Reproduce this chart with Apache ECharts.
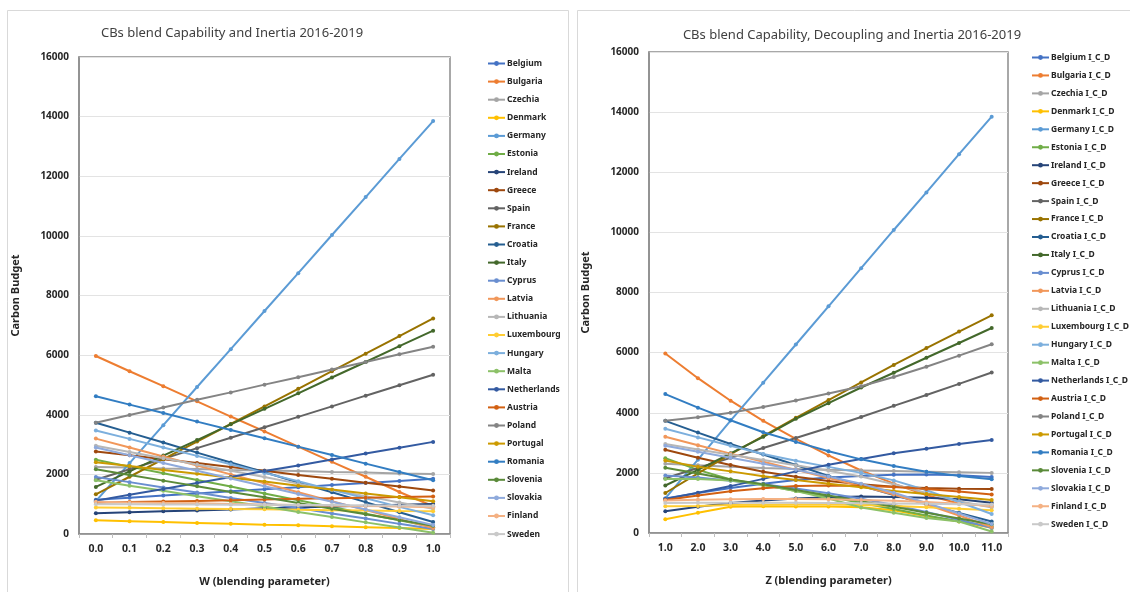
<!DOCTYPE html>
<html>
<head>
<meta charset="utf-8">
<script src="https://cdn.jsdelivr.net/npm/echarts@6/dist/echarts.min.js"></script>
<style>
  html, body { margin: 0; padding: 0; background: #fff; }
  #main { width: 1130px; height: 592px; }
</style>
</head>
<body>
<div id="main"></div>
<script>
// x-axis categories
var wLabels = ['0.0', '0.1', '0.2', '0.3', '0.4', '0.5', '0.6', '0.7', '0.8', '0.9', '1.0'];
var zLabels = ['1.0', '2.0', '3.0', '4.0', '5.0', '6.0', '7.0', '8.0', '9.0', '10.0', '11.0'];

var countries = ['Belgium', 'Bulgaria', 'Czechia', 'Denmark', 'Germany', 'Estonia', 'Ireland', 'Greece', 'Spain',
  'France', 'Croatia', 'Italy', 'Cyprus', 'Latvia', 'Lithuania', 'Luxembourg', 'Hungary', 'Malta', 'Netherlands',
  'Austria', 'Poland', 'Portugal', 'Romania', 'Slovenia', 'Slovakia', 'Finland', 'Sweden'];

// left chart: blend of Capability and Inertia (W)
var wBelgium     = [1150, 1220, 1290, 1360, 1430, 1500, 1570, 1640, 1710, 1780, 1850];
var wBulgaria    = [5970, 5460, 4960, 4450, 3940, 3440, 2930, 2420, 1920, 1410, 930];
var wCzechia     = [2250, 2230, 2200, 2180, 2150, 2130, 2110, 2080, 2060, 2030, 2010];
var wDenmark     = [460, 430, 400, 370, 340, 310, 290, 260, 230, 200, 170];
var wGermany     = [1100, 2380, 3650, 4930, 6200, 7480, 8750, 10030, 11300, 12580, 13850];
var wEstonia     = [2490, 2260, 2040, 1810, 1590, 1360, 1130, 910, 680, 460, 230];
var wIreland     = [700, 730, 760, 790, 820, 860, 890, 920, 950, 980, 1010];
var wGreece      = [2770, 2640, 2510, 2380, 2250, 2120, 1980, 1850, 1720, 1590, 1460];
var wSpain       = [1820, 2170, 2520, 2880, 3230, 3580, 3930, 4280, 4640, 4990, 5340];
var wFrance      = [1330, 1920, 2510, 3100, 3690, 4280, 4870, 5460, 6050, 6640, 7230];
var wCroatia     = [3730, 3400, 3070, 2730, 2400, 2070, 1730, 1400, 1070, 730, 400];
var wItaly       = [1580, 2100, 2630, 3150, 3680, 4200, 4720, 5250, 5770, 6300, 6820];
var wCyprus      = [1910, 1740, 1560, 1390, 1210, 1040, 870, 690, 520, 340, 170];
var wLatvia      = [3200, 2900, 2600, 2300, 2000, 1700, 1400, 1100, 800, 500, 200];
var wLithuania   = [2960, 2750, 2540, 2330, 2120, 1910, 1690, 1480, 1270, 1060, 850];
var wLuxembourg  = [890, 880, 860, 850, 840, 830, 810, 800, 790, 770, 760];
var wHungary     = [3470, 3190, 2900, 2620, 2340, 2050, 1770, 1480, 1200, 910, 630];
var wMalta       = [1800, 1620, 1450, 1270, 1100, 920, 740, 570, 390, 220, 40];
var wNetherlands = [1120, 1320, 1510, 1710, 1910, 2110, 2300, 2500, 2700, 2890, 3090];
var wAustria     = [1050, 1070, 1090, 1110, 1130, 1160, 1180, 1200, 1220, 1240, 1260];
var wPoland      = [3730, 3990, 4240, 4500, 4750, 5010, 5260, 5520, 5770, 6030, 6280];
var wPortugal    = [2410, 2280, 2150, 2020, 1890, 1760, 1620, 1490, 1360, 1230, 1100];
var wRomania     = [4620, 4340, 4060, 3770, 3490, 3210, 2930, 2650, 2360, 2080, 1800];
var wSlovenia    = [2170, 1980, 1790, 1600, 1410, 1230, 1040, 850, 660, 470, 280];
var wSlovakia    = [2900, 2640, 2380, 2120, 1860, 1600, 1340, 1080, 820, 560, 300];
var wFinland     = [1080, 1060, 1040, 1030, 1010, 990, 970, 950, 940, 920, 900];
var wSweden      = [1000, 1000, 990, 990, 980, 980, 970, 970, 960, 960, 950];

// right chart: blend of Capability, Decoupling and Inertia (Z)
var zBelgium     = [1150, 1330, 1500, 1640, 1760, 1850, 1900, 1940, 1950, 1920, 1860];
var zBulgaria    = [5970, 5150, 4400, 3730, 3130, 2580, 2080, 1640, 1260, 980, 900];
var zCzechia     = [2300, 2250, 2200, 2160, 2130, 2100, 2080, 2060, 2040, 2020, 2000];
var zDenmark     = [460, 670, 870, 890, 880, 880, 860, 760, 560, 380, 170];
var zGermany     = [1150, 2440, 3740, 5000, 6270, 7540, 8810, 10080, 11330, 12600, 13850];
var zEstonia     = [2490, 2100, 1780, 1600, 1400, 1210, 1000, 800, 580, 390, 220];
var zIreland     = [720, 870, 1000, 1080, 1150, 1190, 1210, 1200, 1170, 1120, 1010];
var zGreece      = [2770, 2500, 2260, 2040, 1870, 1730, 1620, 1540, 1500, 1470, 1460];
var zSpain       = [1820, 2160, 2500, 2830, 3160, 3500, 3860, 4230, 4590, 4960, 5340];
var zFrance      = [1330, 1980, 2620, 3220, 3830, 4420, 5010, 5590, 6150, 6700, 7240];
var zCroatia     = [3730, 3340, 2960, 2610, 2260, 1900, 1570, 1260, 960, 670, 380];
var zItaly       = [1580, 2100, 2650, 3200, 3800, 4320, 4840, 5330, 5830, 6320, 6820];
var zCyprus      = [1910, 1850, 1740, 1620, 1480, 1320, 1140, 930, 700, 440, 170];
var zLatvia      = [3200, 2920, 2640, 2370, 2100, 1830, 1560, 1280, 950, 580, 200];
var zLithuania   = [2960, 2780, 2600, 2430, 2250, 2070, 1880, 1620, 1330, 1060, 850];
var zLuxembourg  = [890, 900, 930, 940, 950, 950, 930, 900, 860, 810, 760];
var zHungary     = [3470, 3180, 2900, 2630, 2400, 2200, 2000, 1750, 1420, 1030, 630];
var zMalta       = [1800, 1800, 1750, 1600, 1400, 1150, 850, 670, 500, 380, 50];
var zNetherlands = [1130, 1340, 1560, 1800, 2050, 2270, 2460, 2650, 2800, 2960, 3090];
var zAustria     = [1100, 1250, 1390, 1490, 1560, 1580, 1570, 1530, 1460, 1380, 1280];
var zPoland      = [3730, 3850, 4000, 4190, 4410, 4640, 4880, 5190, 5530, 5900, 6280];
var zPortugal    = [2410, 2200, 2050, 1890, 1760, 1640, 1520, 1400, 1300, 1200, 1100];
var zRomania     = [4620, 4170, 3750, 3350, 3030, 2720, 2450, 2230, 2040, 1900, 1790];
var zSlovenia    = [2170, 1980, 1780, 1620, 1430, 1250, 1060, 870, 670, 480, 290];
var zSlovakia    = [2900, 2700, 2500, 2300, 2100, 1880, 1640, 1340, 1000, 650, 300];
var zFinland     = [1080, 1110, 1120, 1130, 1130, 1120, 1100, 1070, 1030, 970, 900];
var zSweden      = [1000, 1010, 1010, 1010, 1010, 1000, 990, 980, 970, 960, 950];

var wValues = [wBelgium, wBulgaria, wCzechia, wDenmark, wGermany, wEstonia, wIreland, wGreece, wSpain, wFrance,
  wCroatia, wItaly, wCyprus, wLatvia, wLithuania, wLuxembourg, wHungary, wMalta, wNetherlands, wAustria, wPoland,
  wPortugal, wRomania, wSlovenia, wSlovakia, wFinland, wSweden];
var zValues = [zBelgium, zBulgaria, zCzechia, zDenmark, zGermany, zEstonia, zIreland, zGreece, zSpain, zFrance,
  zCroatia, zItaly, zCyprus, zLatvia, zLithuania, zLuxembourg, zHungary, zMalta, zNetherlands, zAustria, zPoland,
  zPortugal, zRomania, zSlovenia, zSlovakia, zFinland, zSweden];

// excel office palette, 27 series
var palette = ['#4472C4', '#ED7D31', '#A5A5A5', '#FFC000', '#5B9BD5', '#70AD47', '#264478', '#9E480E', '#636363',
  '#997300', '#255E91', '#43682B', '#698ED0', '#F1975A', '#B7B7B7', '#FFCD33', '#7CAFDD', '#8CC168', '#335AA1',
  '#D26012', '#848484', '#CC9A00', '#327DC2', '#5A8A39', '#8FAADC', '#F4B183', '#C9C9C9'];

var FONT = '"Noto Sans", "Open Sans", sans-serif';
var TXT = '#262626';

function makeSeries(values, suffix, idx) {
  return values.map(function (vals, i) {
    return {
      name: countries[i] + suffix,
      type: 'line',
      xAxisIndex: idx,
      yAxisIndex: idx,
      data: vals,
      symbol: 'circle',
      symbolSize: 4,
      color: palette[i],
      lineStyle: { width: 2 },
      emphasis: { disabled: true },
      animation: false
    };
  });
}

function makeLegend(suffix, left, top, gap) {
  return {
    orient: 'vertical',
    left: left,
    top: top,
    padding: 0,
    itemWidth: 17,
    itemHeight: 6,
    itemGap: gap,
    selectedMode: false,
    data: countries.map(function (c) { return c + suffix; }),
    textStyle: { fontFamily: FONT, fontSize: 8.5, fontWeight: 'bold', color: TXT, padding: [0, 0, 0, -3] }
  };
}

function makeXAxis(labels, idx, name) {
  return {
    type: 'category',
    gridIndex: idx,
    data: labels,
    boundaryGap: true,
    name: name,
    nameLocation: 'middle',
    nameGap: 42,
    nameTextStyle: { fontFamily: FONT, fontSize: 11, fontWeight: 'bold', color: TXT },
    axisLine: { lineStyle: { color: '#8c8c8c', width: 1.5 } },
    axisTick: { show: true, length: 4, lineStyle: { color: '#bfbfbf' } },
    axisLabel: { fontFamily: FONT, fontSize: 10.5, fontWeight: 'bold', color: TXT, margin: 10 },
    splitLine: { show: false }
  };
}

function makeYAxis(idx) {
  return {
    type: 'value',
    gridIndex: idx,
    min: 0,
    max: 16000,
    interval: 2000,
    name: 'Carbon Budget',
    nameLocation: 'middle',
    nameRotate: 90,
    nameGap: 58,
    nameTextStyle: { fontFamily: FONT, fontSize: 11, fontWeight: 'bold', color: TXT },
    axisLine: { show: true, lineStyle: { color: '#8c8c8c', width: 1.5 } },
    axisTick: { show: false },
    axisLabel: {
      fontFamily: FONT, fontSize: 10, fontWeight: 'bold', color: TXT, margin: 10,
      formatter: function (v) { return String(v); }
    },
    splitLine: { lineStyle: { color: '#e3e3e3', width: 1 } }
  };
}

var chart = echarts.init(document.getElementById('main'), null, { renderer: 'canvas' });

chart.setOption({
  backgroundColor: '#fff',
  animation: false,
  graphic: [
    { type: 'rect', shape: { x: 7.5, y: 10.5, width: 561, height: 600 }, style: { fill: 'none', stroke: '#d9d9d9', lineWidth: 1 }, z: -10 },
    { type: 'rect', shape: { x: 577.5, y: 10.5, width: 560, height: 600 }, style: { fill: 'none', stroke: '#d9d9d9', lineWidth: 1 }, z: -10 }
  ],
  title: [
    {
      text: 'CBs blend Capability and Inertia 2016-2019',
      left: 227, top: 22, textAlign: 'center',
      textStyle: { fontFamily: FONT, fontSize: 13, fontWeight: 'normal', color: '#404040' }
    },
    {
      text: 'CBs blend Capability, Decoupling and Inertia 2016-2019',
      left: 847, top: 24, textAlign: 'center',
      textStyle: { fontFamily: FONT, fontSize: 13, fontWeight: 'normal', color: '#404040' }
    }
  ],
  legend: [
    makeLegend('', 487, 59, 9.1),
    makeLegend(' I_C_D', 1031, 53, 8.95)
  ],
  grid: [
    { left: 79, top: 57, width: 371, height: 483, show: true, borderColor: '#8c8c8c', borderWidth: 1.5, backgroundColor: 'transparent' },
    { left: 649, top: 52, width: 359, height: 481, show: true, borderColor: '#8c8c8c', borderWidth: 1.5, backgroundColor: 'transparent' }
  ],
  xAxis: [
    makeXAxis(wLabels, 0, 'W (blending parameter)'),
    makeXAxis(zLabels, 1, 'Z (blending parameter)')
  ],
  yAxis: [makeYAxis(0), makeYAxis(1)],
  series: makeSeries(wValues, '', 0).concat(makeSeries(zValues, ' I_C_D', 1))
});
</script>
</body>
</html>
